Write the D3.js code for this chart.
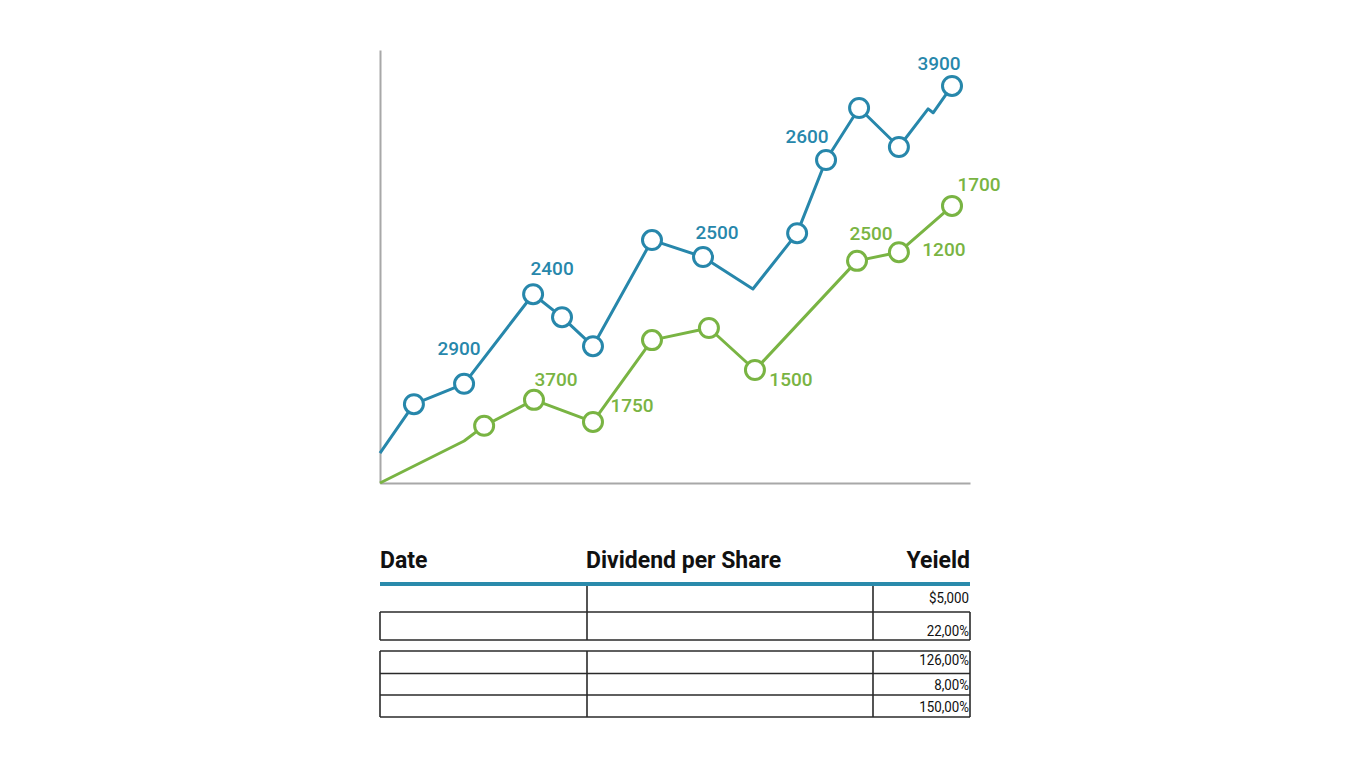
<!DOCTYPE html>
<html>
<head>
<meta charset="utf-8">
<script src="https://cdn.jsdelivr.net/npm/d3@7"></script>
<style>
  body { margin: 0; background: #fff; }
  svg { display: block; }
  .lbl { font-family: Roboto, sans-serif; font-weight: 500; font-size: 19px; }
  .head { font-family: Roboto, sans-serif; font-weight: 700; font-size: 23px; fill: #111; }
  .cell { font-family: Roboto, sans-serif; font-size: 15.5px; fill: #111; }
</style>
</head>
<body>
<div id="chart"></div>
<script>
// series (x in periods, y in index units 0-100)
var blueX = [0, 1.15, 2.85, 5.19, 6.17, 7.22, 9.22, 10.95, 12.64, 14.14, 15.12, 16.24, 17.59, 18.58, 18.75, 19.39];
var blueY = [6.9, 18.2, 22.9, 43.6, 38.3, 31.6, 56.1, 52.2, 44.8, 57.7, 74.6, 86.6, 77.6, 86.4, 85.5, 91.7];
var blueMarker = [0, 1, 1, 1, 1, 1, 1, 1, 0, 1, 1, 1, 1, 0, 0, 1];

var greenX = [0, 2.85, 3.53, 5.22, 7.22, 9.22, 11.15, 12.71, 16.17, 17.59, 19.39];
var greenY = [0, 9.7, 13.2, 19.2, 14.1, 33.0, 35.8, 26.1, 51.3, 53.3, 64.0];
var greenMarker = [0, 0, 1, 1, 1, 1, 1, 1, 1, 1, 1];

// point labels: which point, what text
var blueLabelIdx = [2, 3, 7, 10, 15];
var blueLabelText = ["2900", "2400", "2500", "2600", "3900"];
var greenLabelIdx = [3, 4, 7, 8, 9, 10];
var greenLabelText = ["3700", "1750", "1500", "2500", "1200", "1700"];

// table
var tableHeaders = ["Date", "Dividend per Share", "Yeield"];
var yieldValues = ["$5,000", "22,00%", "126,00%", "8,00%", "150,00%"];

var svgWidth = 1365;
var svgHeight = 768;

var margin = { top: 50, left: 380 };
var width = 590;
var height = 433;

var blue = "#2787ab";
var green = "#79b443";

var svg = d3
  .select("#chart")
  .append("svg")
  .attr("width", svgWidth)
  .attr("height", svgHeight);

var chartGroup = svg
  .append("g")
  .attr("transform", `translate(${margin.left}, ${margin.top})`);

var xScale = d3.scaleLinear().domain([0, 20]).range([0, width]);
var yScale = d3.scaleLinear().domain([0, 100]).range([height, 0]);

// axes: plain lines, no ticks
var bottomAxis = d3.axisBottom(xScale).ticks(0).tickSize(0).tickSizeOuter(0);
var leftAxis = d3.axisLeft(yScale).ticks(0).tickSize(0).tickSizeOuter(0);

chartGroup
  .append("g")
  .attr("transform", `translate(0, ${height})`)
  .call(bottomAxis)
  .select(".domain")
  .attr("stroke", "#a8a8a8")
  .attr("stroke-width", 2);

chartGroup
  .append("g")
  .call(leftAxis)
  .select(".domain")
  .attr("stroke", "#a8a8a8")
  .attr("stroke-width", 2);

function drawSeries(xs, ys, markers, color, labelIdx, labelText, offsets) {
  var pts = xs.map((x, i) => ({ x: x, y: ys[i], m: markers[i] }));
  var line = d3
    .line()
    .x((d) => xScale(d.x))
    .y((d) => yScale(d.y));

  chartGroup
    .append("path")
    .datum(pts)
    .attr("fill", "none")
    .attr("stroke", color)
    .attr("stroke-width", 3)
    .attr("stroke-linejoin", "round")
    .attr("d", line);

  chartGroup
    .append("g")
    .selectAll("circle")
    .data(pts.filter((d) => d.m))
    .enter()
    .append("circle")
    .attr("cx", (d) => xScale(d.x))
    .attr("cy", (d) => yScale(d.y))
    .attr("r", 9.5)
    .attr("fill", "#fff")
    .attr("stroke", color)
    .attr("stroke-width", 3);

  chartGroup
    .append("g")
    .selectAll("text")
    .data(labelIdx)
    .enter()
    .append("text")
    .attr("class", "lbl")
    .attr("fill", color)
    .attr("text-anchor", "middle")
    .attr("dominant-baseline", "central")
    .attr("x", (d, i) => xScale(pts[d].x) + offsets[i][0])
    .attr("y", (d, i) => yScale(pts[d].y) + offsets[i][1])
    .text((d, i) => labelText[i]);
}

drawSeries(blueX, blueY, blueMarker, blue, blueLabelIdx, blueLabelText,
  [[-5, -35], [19, -26], [14, -24], [-19, -23], [-13, -22]]);
drawSeries(greenX, greenY, greenMarker, green, greenLabelIdx, greenLabelText,
  [[22, -20], [39, -16], [36, 10], [14, -27], [45, -3], [27, -21]]);

// ---- table ----
var tLeft = 380, tRight = 970, col1 = 587, col2 = 873;
var table = svg.append("g");

table
  .selectAll("text.head")
  .data(tableHeaders)
  .enter()
  .append("text")
  .attr("class", "head")
  .attr("x", (d, i) => [tLeft, col1 - 1, tRight][i])
  .attr("y", 568)
  .attr("text-anchor", (d, i) => (i === 2 ? "end" : "start"))
  .text((d) => d);

table
  .append("line")
  .attr("x1", tLeft).attr("x2", tRight)
  .attr("y1", 584).attr("y2", 584)
  .attr("stroke", "#2a8aab")
  .attr("stroke-width", 4);

var lineColor = "#2a2a2a";
function hline(y, x1, x2) {
  table.append("line").attr("x1", x1).attr("x2", x2).attr("y1", y).attr("y2", y)
    .attr("stroke", lineColor).attr("stroke-width", 1.6);
}
function vline(x, y1, y2) {
  table.append("line").attr("x1", x).attr("x2", x).attr("y1", y1).attr("y2", y2)
    .attr("stroke", lineColor).attr("stroke-width", 1.6);
}

// row 1 (open sides)
vline(col1, 586, 612);
vline(col2, 586, 612);
// row 2 box
hline(612, tLeft, tRight);
hline(640, tLeft, tRight);
[tLeft, col1, col2, tRight].forEach((x) => vline(x, 612, 640));
// rows 3-5 box
[651, 673.5, 695, 717].forEach((y) => hline(y, tLeft, tRight));
[tLeft, col1, col2, tRight].forEach((x) => vline(x, 651, 717));

// yield column, narrow lettering like the reference
var yieldBaselines = [603, 636, 665, 690, 712];
table
  .selectAll("text.cell")
  .data(yieldValues)
  .enter()
  .append("text")
  .attr("class", "cell")
  .attr("transform", (d, i) => `translate(969, ${yieldBaselines[i]}) scale(0.86, 1)`)
  .attr("text-anchor", "end")
  .text((d) => d);
</script>
</body>
</html>
